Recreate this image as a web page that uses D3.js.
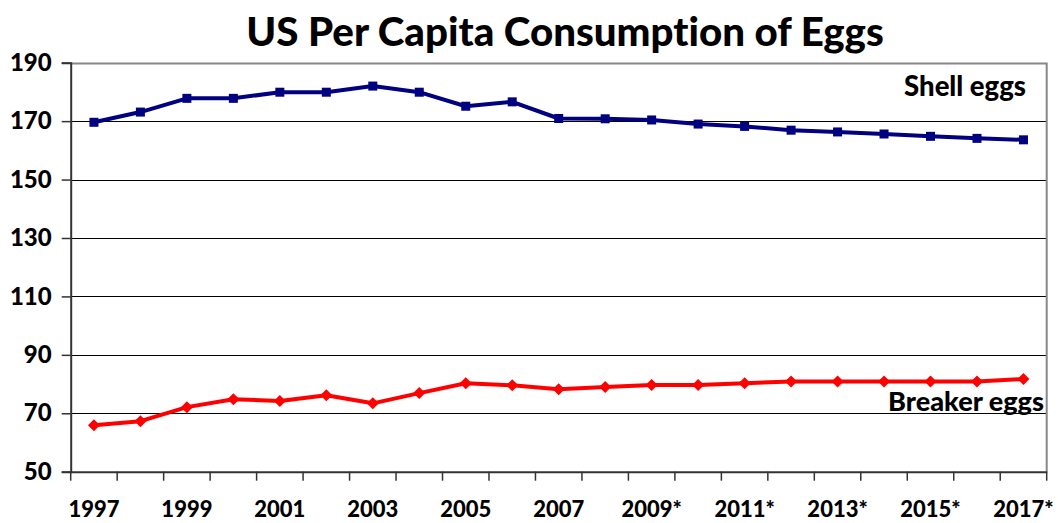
<!DOCTYPE html>
<html><head><meta charset="utf-8">
<script src="https://cdn.jsdelivr.net/npm/d3@7"></script>
<style>
html,body{margin:0;padding:0;background:#fff;}
svg text{font-family:"Lato","Open Sans",sans-serif;font-weight:900;fill:#000;font-variant-ligatures:none;}
</style></head>
<body>
<svg id="chart" width="1058" height="523"></svg>
<script>
const years = ["1997","1998","1999","2000","2001","2002","2003","2004","2005","2006","2007","2008","2009*","2010*","2011*","2012*","2013*","2014*","2015*","2016*","2017*"];
const shellEggs = [169.6,173.1,177.8,177.8,179.9,179.9,182.0,179.9,175.1,176.6,170.9,170.8,170.4,169.0,168.2,166.9,166.3,165.6,164.8,164.1,163.6];
const breakerEggs = [65.9,67.3,72.1,74.8,74.2,76.2,73.4,76.9,80.3,79.6,78.2,79.0,79.7,79.7,80.3,80.9,80.9,80.9,80.9,80.9,81.7];
const yTicks = [50,70,90,110,130,150,170,190];
const title = "US Per Capita Consumption of Eggs";

const svg = d3.select("#chart");
const m = {left:70.7, right:1046.7, top:62.7, bottom:471.7};
const x = d3.scaleBand().domain(years).range([m.left, m.right]);
const y = d3.scaleLinear().domain([50,190]).range([m.bottom, m.top]);
const cx = d => x(d) + x.bandwidth()/2;

function fitWidth(sel, base, target){
  sel.style("font-size", base+"px");
  const w = sel.node().getComputedTextLength();
  sel.style("font-size", (base*target/w)+"px");
}

// gridlines
svg.append("g").selectAll("line").data(yTicks.filter(t=>t>50 && t<190)).join("line")
  .attr("x1", m.left).attr("x2", m.right).attr("y1", d=>Math.round(y(d))+0.5).attr("y2", d=>Math.round(y(d))+0.5)
  .attr("stroke","#000").attr("stroke-width",1);

// top/right border
svg.append("path").attr("d", `M${m.left},${Math.round(m.top)+0.5}H${m.right}V${m.bottom}`)
  .attr("fill","none").attr("stroke","#888").attr("stroke-width",2);

// y axis
const yAxis = svg.append("g").attr("transform",`translate(${m.left},0)`)
  .call(d3.axisLeft(y).tickValues(yTicks).tickSize(9).tickPadding(10).tickFormat(d3.format("d")));
yAxis.select(".domain").attr("stroke","#333").attr("stroke-width",2);
yAxis.selectAll(".tick line").attr("stroke","#333").attr("stroke-width",1.5);
yAxis.selectAll("text").style("font-size","24px").attr("fill","#000");

// x axis
const xAxis = svg.append("g").attr("transform",`translate(0,${m.bottom})`)
  .call(d3.axisBottom(x).tickSize(0).tickPadding(30).tickFormat((d,i)=> i%2===0 ? d : ""));
xAxis.select(".domain").attr("stroke","#333").attr("stroke-width",2);
xAxis.selectAll("text").style("font-size","22px").attr("fill","#000");
// band boundary ticks
const bounds = years.map(d=>x(d)).concat([m.right]);
xAxis.append("g").selectAll("line").data(bounds).join("line")
  .attr("x1",d=>d).attr("x2",d=>d).attr("y1",0).attr("y2",9)
  .attr("stroke","#333").attr("stroke-width",1.5);

// lines
const line = d3.line().x((d,i)=>cx(years[i])).y(d=>y(d));
svg.append("path").datum(shellEggs).attr("d",line).attr("fill","none")
  .attr("stroke","#000080").attr("stroke-width",4).attr("stroke-linejoin","round");
svg.append("g").selectAll("rect").data(shellEggs).join("rect")
  .attr("x",(d,i)=>cx(years[i])-4.5).attr("y",d=>y(d)-4.5).attr("width",9).attr("height",9)
  .attr("fill","#000080");

svg.append("path").datum(breakerEggs).attr("d",line).attr("fill","none")
  .attr("stroke","#ff0000").attr("stroke-width",4).attr("stroke-linejoin","round");
svg.append("g").selectAll("path.dia").data(breakerEggs).join("path").attr("class","dia")
  .attr("d",(d,i)=>{const px=cx(years[i]), py=y(d), r=6; return `M${px},${py-r}L${px+r},${py}L${px},${py+r}L${px-r},${py}Z`;})
  .attr("fill","#ff0000");

// series labels
const s1 = svg.append("text").attr("x",1026).attr("y",96).attr("text-anchor","end").text("Shell eggs");
fitWidth(s1, 22, 122);
const s2 = svg.append("text").attr("x",1044).attr("y",411).attr("text-anchor","end").text("Breaker eggs");
fitWidth(s2, 22, 156);

// title
const t = svg.append("text").attr("x",565).attr("y",46).attr("text-anchor","middle").text(title);
fitWidth(t, 36, 638);
</script>
</body></html>
